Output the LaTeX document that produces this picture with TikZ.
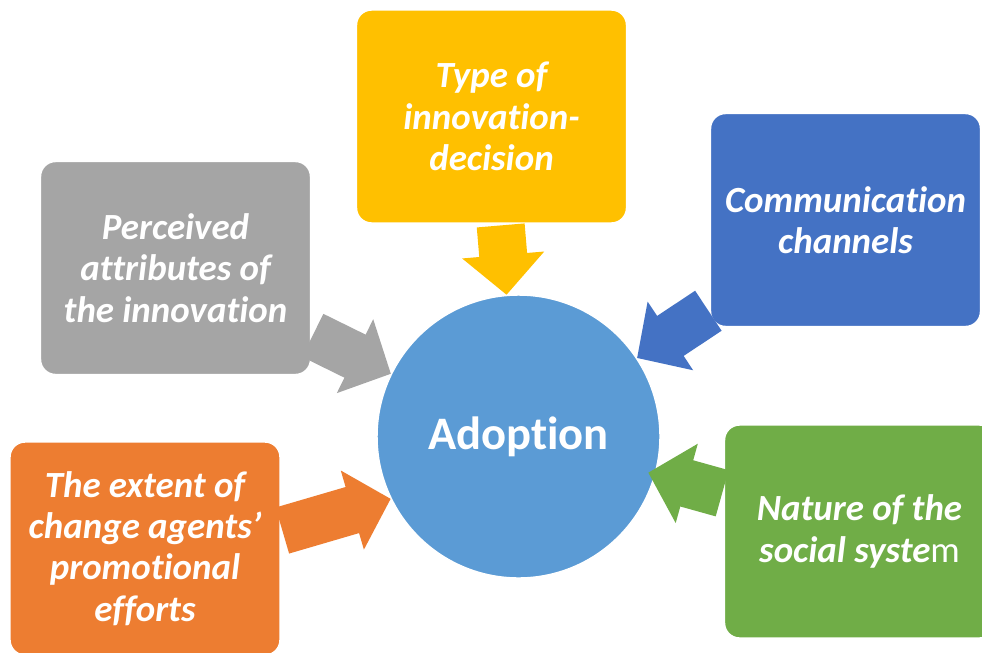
\documentclass[tikz,border=0pt]{standalone}
\usepackage{fontspec}
\setmainfont{Carlito}[Ligatures={TeX,NoCommon}]
\usetikzlibrary{arrows.meta}
\definecolor{gelb}{HTML}{FFC000}
\definecolor{grau}{HTML}{A5A5A5}
\definecolor{blau}{HTML}{4472C4}
\definecolor{hellblau}{HTML}{5B9BD5}
\definecolor{orange}{HTML}{ED7D31}
\definecolor{gruen}{HTML}{70AD47}
\begin{document}
\begin{tikzpicture}[x=0.02cm,y=-0.02cm,
		kasten/.style={rectangle, rounded corners=0.3cm, draw=white, line width=0.8pt, minimum width=5.4cm, minimum height=4.26cm, inner sep=0pt, align=center, text=white, font=\fontsize{21}{23.5}\selectfont\bfseries\itshape},
		pfeil/.style={line width=0.96cm, -{Triangle[length=0.8cm,width=1.6cm]}, shorten <=1pt}]
		%Hintergrund
		\useasboundingbox [fill=white] (0,0) rectangle (982,652);
		% Kaesten
		\node (type) at (491.5,116.5) [kasten, fill=gelb] {Type of\\innovation-\\decision};
		\node (attr) at (175.5,268) [kasten, fill=grau] {Perceived\\attributes of\\the innovation};
		\node (comm) at (845.5,220) [kasten, fill=blau] {Communication\\channels};
		\node (agents) at (145,548.5) [kasten, fill=orange] {The extent of\\change agents’\\promotional\\efforts};
		\node (nature) at (859.5,531.5) [kasten, fill=gruen] {Nature of the\\social syste{\mdseries\upshape m}};
		% Kreis
		\node (adopt) at (518.5,436.5) [circle, fill=hellblau, draw=white, line width=0.8pt, minimum size=5.66cm, text=white, font=\fontsize{26.5}{30}\selectfont\bfseries] {Adoption};
		% Pfeile
		\draw [pfeil, gelb] (type) -- (adopt);
		\draw [pfeil, grau] (attr) -- (adopt);
		\draw [pfeil, blau] (comm) -- (adopt);
		\draw [pfeil, gruen, shorten >=-0.15cm] (nature) -- (adopt);
		\draw [pfeil, orange] ([yshift=0.35cm]agents.east) -- (adopt.206);
\end{tikzpicture}
\end{document}
